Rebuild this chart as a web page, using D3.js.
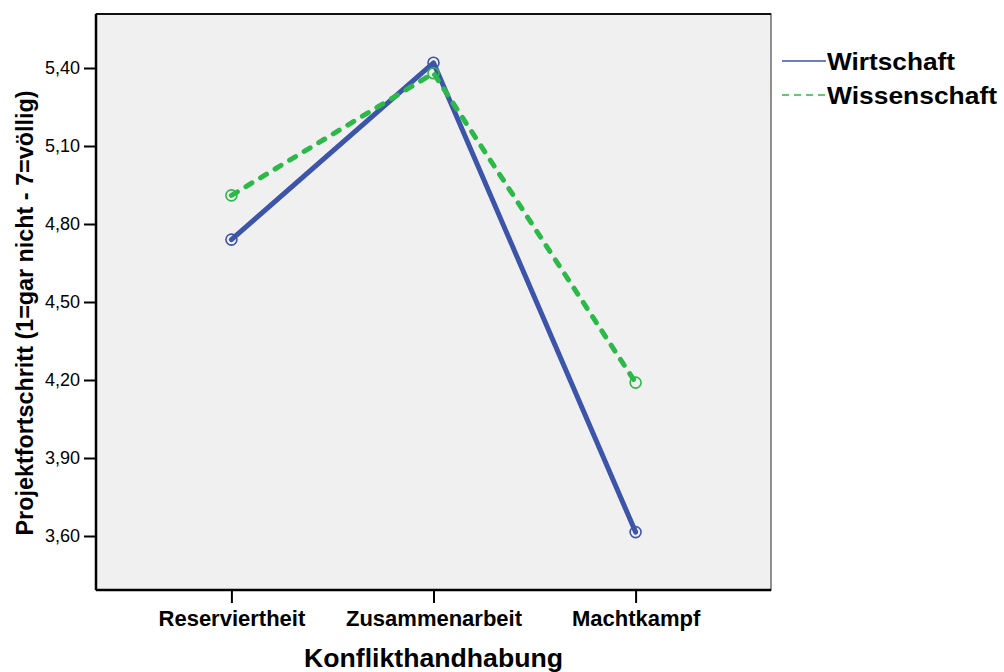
<!doctype html>
<html>
  <head>
    <script src="https://cdn.jsdelivr.net/npm/d3@7/dist/d3.min.js"></script>
    <style>
      body { margin: 0; background: #fff; }
      svg { font-family: "Liberation Sans", Arial, sans-serif; }
      .frame { fill: #f0f0f0; stroke: #6e6e6e; stroke-width: 1.5; }
      .axis path { stroke: #000; stroke-width: 2.5; }
      .axis line { stroke: #000; stroke-width: 2; }
      .axis text { fill: #000; }
      .y.axis text { font-size: 18px; }
      .x.axis text { font-size: 22px; font-weight: bold; }
      .title { font-weight: bold; fill: #000; }
    </style>
  </head>
  <body>
    <svg width="1004" height="672"></svg>
    <script>
      var categories = ["Reserviertheit", "Zusammenarbeit", "Machtkampf"];
      var wirtschaft = [4.74, 5.42, 3.615];
      var wissenschaft = [4.91, 5.38, 4.19];
      var yTicks = [3.6, 3.9, 4.2, 4.5, 4.8, 5.1, 5.4];
      var seriesNames = ["Wirtschaft", "Wissenschaft"];

      var plotL = 96, plotR = 771, plotT = 14, plotB = 590;
      var svg = d3.select("svg");

      var x = d3.scalePoint().domain(categories).range([plotL, plotR]).padding(0.67);
      var y = d3.scaleLinear().domain([3.3923, 5.6077]).range([plotB, plotT]);

      svg.append("rect")
        .attr("class", "frame")
        .attr("x", plotL).attr("y", plotT)
        .attr("width", plotR - plotL).attr("height", plotB - plotT);
      svg.append("line")
        .attr("x1", plotL).attr("x2", plotR).attr("y1", plotT).attr("y2", plotT)
        .attr("stroke", "#111").attr("stroke-width", 2);

      var fmt = d => d3.format(".2f")(d).replace(".", ",");

      svg.append("g")
        .attr("class", "y axis")
        .attr("transform", "translate(" + plotL + ",0)")
        .call(d3.axisLeft(y).tickValues(yTicks).tickFormat(fmt).tickSize(12).tickSizeOuter(0).tickPadding(4))
        .select(".domain").attr("d", "M0," + plotT + "V" + plotB);

      svg.append("g")
        .attr("class", "x axis")
        .attr("transform", "translate(0," + plotB + ")")
        .call(d3.axisBottom(x).tickSize(13).tickSizeOuter(0).tickPadding(7))
        .select(".domain").attr("d", "M" + plotL + ",0H" + plotR);

      var line = d3.line().x((d, i) => x(categories[i])).y(d => y(d));

      var series = [
        { name: seriesNames[0], values: wirtschaft, color: "#3d55a8", dash: null },
        { name: seriesNames[1], values: wissenschaft, color: "#2db84a", dash: "7,10" }
      ];

      series.forEach(s => {
        svg.append("path")
          .datum(s.values)
          .attr("d", line)
          .attr("fill", "none")
          .attr("stroke", s.color)
          .attr("stroke-width", 5)
          .attr("stroke-linecap", "round")
          .attr("stroke-linejoin", "round")
          .attr("stroke-dasharray", s.dash);

        svg.selectAll(null).data(s.values)
          .enter()
          .append("circle")
            .attr("cx", (d, i) => x(categories[i]))
            .attr("cy", d => y(d))
            .attr("r", 5.5)
            .attr("fill", "none")
            .attr("stroke", s.color)
            .attr("stroke-width", 1.6);
      });

      // legend
      var legend = svg.append("g");
      var legendLen = [128, 170];
      series.forEach((s, i) => {
        var ly = 61 + i * 34;
        legend.append("line")
          .attr("x1", 782).attr("x2", 826)
          .attr("y1", ly).attr("y2", ly)
          .attr("stroke", s.color)
          .attr("stroke-width", 1.5)
          .attr("stroke-dasharray", s.dash ? "7,5" : null);
        legend.append("text")
          .attr("class", "title")
          .attr("x", 827).attr("y", ly + 9)
          .attr("font-size", 24)
          .attr("textLength", legendLen[i])
          .attr("lengthAdjust", "spacingAndGlyphs")
          .text(s.name);
      });

      svg.append("text")
        .attr("class", "title")
        .attr("x", (plotL + plotR) / 2).attr("y", 667)
        .attr("text-anchor", "middle")
        .attr("font-size", 25)
        .attr("textLength", 259)
        .attr("lengthAdjust", "spacingAndGlyphs")
        .text("Konflikthandhabung");

      svg.append("text")
        .attr("class", "title")
        .attr("transform", "translate(33,313) rotate(-90)")
        .attr("text-anchor", "middle")
        .attr("font-size", 24)
        .attr("textLength", 445)
        .attr("lengthAdjust", "spacingAndGlyphs")
        .text("Projektfortschritt (1=gar nicht - 7=völlig)");
    </script>
  </body>
</html>
